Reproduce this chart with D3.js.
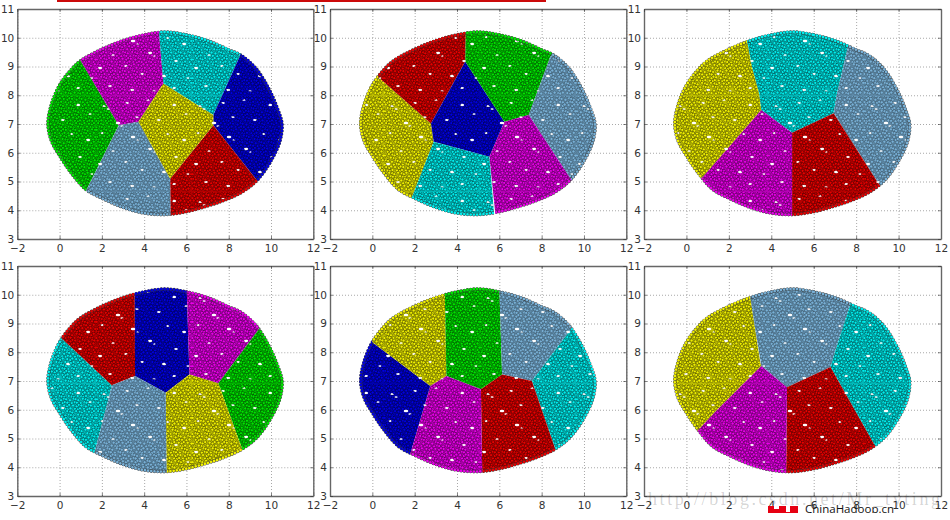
<!DOCTYPE html>
<html>
<head>
<meta charset="utf-8">
<script src="https://d3js.org/d3.v7.min.js"></script>
<style>
html, body { margin: 0; padding: 0; background: #fff; }
svg { display: block; }
text { font-family: "DejaVu Sans", sans-serif; }
</style>
</head>
<body>
<div id="chart"></div>
<script>
const xTicks = [-2, 0, 2, 4, 6, 8, 10, 12];
const yTicks = [3, 4, 5, 6, 7, 8, 9, 10, 11];
const watermark = "http://blog.csdn.net/Mr_tyting";
const siteName = "ChinaHadoop.cn";

const colors = {
    green: "#00e600", magenta: "#ea00ea", cyan: "#00eeee", blue: "#0000e0",
    yellow: "#f0f000", slate: "#78b0d6", red: "#e80000"
};

const rim = [[5,10.2],[6,10.1],[7,9.9],[8,9.58],[8.6,9.38],[9.3,8.92],[9.9,8.22],[10.3,7.55],[10.52,7],
    [10.42,6.4],[10,5.72],[9.35,5.05],[8.6,4.62],[7.8,4.35],[7,4.15],[6,3.95],[5,3.85],[4,3.9],[3,4.1],
    [2,4.42],[1.25,4.72],[0.5,5.35],[0,5.9],[-0.38,6.4],[-0.55,7],[-0.38,7.7],[0,8.35],[0.5,8.85],
    [1,9.2],[2,9.6],[3,9.9],[4,10.1]];

// regions of each panel: colour name, then corners in data units (outer corners lie past the rim)
const panel1 = [
    ["green", [[1.02,9.17],[2.8,6.96],[1.26,4.7],[1,4.3],[-1.5,4.3],[-1.5,9.9],[0.7,9.6]]],
    ["magenta", [[1.02,9.17],[0.7,9.6],[2,11],[4.65,11],[4.7,10.2],[4.91,8.41],[3.73,7.08],[2.8,6.96]]],
    ["cyan", [[4.65,11],[8.9,11],[8.9,10],[8.55,9.4],[7.27,7.31],[4.91,8.41],[4.7,10.2]]],
    ["blue", [[8.9,11],[12,11],[12,4],[9.9,4.5],[9.32,5.05],[7.27,6.96],[7.27,7.31],[8.55,9.4],[8.9,10]]],
    ["red", [[5.23,5.1],[7.27,6.96],[9.32,5.05],[9.9,4.5],[9.9,3],[5.25,3]]],
    ["slate", [[1.26,4.7],[2.8,6.96],[3.73,7.08],[5.23,5.1],[5.25,3],[1,3],[1,4.3]]],
    ["yellow", [[3.73,7.08],[4.91,8.41],[7.27,7.31],[7.27,6.96],[5.23,5.1]]]
];
const panel2 = [
    ["yellow", [[0.3,8.62],[2.77,7.02],[2.9,6.38],[1.87,4.45],[1.6,3.9],[-1.5,3.9],[-1.5,9.5],[0,9.2]]],
    ["red", [[0.3,8.62],[2.77,7.02],[4.39,9.17],[4.44,11],[0,11],[0,9.2]]],
    ["blue", [[2.77,7.02],[4.39,9.17],[6.24,7.08],[5.53,5.86],[2.9,6.38]]],
    ["green", [[4.39,9.17],[4.44,11],[8.8,11],[8.8,9.8],[8.41,9.34],[7.39,7.31],[6.24,7.08]]],
    ["slate", [[8.8,11],[12,11],[12,4],[9.7,4.7],[9.35,5.11],[7.39,7.31],[8.41,9.34],[8.8,9.8]]],
    ["magenta", [[6.24,7.08],[7.39,7.31],[9.35,5.11],[9.7,4.7],[9.7,3],[5.85,3],[5.81,3.9],[5.53,5.86]]],
    ["cyan", [[2.9,6.38],[5.53,5.86],[5.85,3],[1.6,3],[1.87,4.45]]]
];
const panel3 = [
    ["yellow", [[2.85,9.94],[3.09,8.99],[3.43,8.06],[3.53,7.49],[0.65,5.05],[0.2,4.6],[-1.5,4.6],[-1.5,11],[2.7,11]]],
    ["cyan", [[2.7,11],[2.85,9.94],[3.09,8.99],[3.43,8.06],[3.53,7.49],[4.98,6.7],[6.94,7.37],[7.1,8.06],[7.65,9.8],[7.9,11]]],
    ["slate", [[7.9,11],[12,11],[12,3.5],[9.5,4.4],[9.15,4.82],[6.94,7.37],[7.1,8.06],[7.65,9.8]]],
    ["red", [[4.98,6.7],[6.94,7.37],[9.15,4.82],[9.5,4.4],[9.5,3],[4.98,3]]],
    ["magenta", [[3.53,7.49],[4.98,6.7],[4.98,3],[0.2,3],[0.2,4.6],[0.65,5.05]]]
];
const panel4 = [
    ["cyan", [[0.08,8.5],[2.47,6.85],[2.31,6.36],[1.69,4.62],[1.5,4],[-1.5,4],[-1.5,8.7],[-0.2,8.7]]],
    ["red", [[0.08,8.5],[2.47,6.85],[3.57,7.17],[3.55,11],[-0.2,11],[-0.2,8.7]]],
    ["blue", [[3.55,11],[5.98,11],[6.14,7.23],[5.02,6.59],[3.57,7.17]]],
    ["magenta", [[5.98,11],[9.9,11],[9.9,9.4],[9.48,8.85],[7.51,6.92],[6.14,7.23]]],
    ["green", [[9.9,11],[12,11],[12,3],[9,3],[9,3.9],[8.61,4.68],[7.51,6.92],[9.48,8.85],[9.9,9.4]]],
    ["yellow", [[5.02,6.59],[6.14,7.23],[7.51,6.92],[8.61,4.68],[9,3.9],[9,3],[5.07,3]]],
    ["slate", [[2.47,6.85],[3.57,7.17],[5.02,6.59],[5.07,3],[1.5,3],[1.5,4],[1.69,4.62],[2.31,6.36]]]
];
const panel5 = [
    ["blue", [[-0.2,8.7],[0.03,8.33],[2.74,6.83],[1.8,4.48],[1.5,3.9],[-1.5,3.9],[-1.5,8.7]]],
    ["yellow", [[0.03,8.33],[2.74,6.83],[3.5,7.17],[3.4,11],[-0.2,11],[-0.2,8.7]]],
    ["green", [[3.4,11],[5.97,11],[6.13,7.23],[5.13,6.71],[3.5,7.17]]],
    ["slate", [[5.97,11],[9.9,11],[9.9,9.4],[9.43,8.85],[7.54,7],[6.13,7.23]]],
    ["cyan", [[9.9,11],[12,11],[12,3],[9,3],[9,3.8],[8.65,4.62],[7.54,7],[9.43,8.85],[9.9,9.4]]],
    ["red", [[5.13,6.71],[6.13,7.23],[7.54,7],[8.65,4.62],[9,3.8],[9,3],[5.21,3]]],
    ["magenta", [[2.74,6.83],[3.5,7.17],[5.13,6.71],[5.21,3],[1.5,3],[1.5,3.9],[1.8,4.48]]]
];
const panel6 = [
    ["yellow", [[2.9,11],[3,9.98],[3.17,9.14],[3.48,7.64],[3.53,7.52],[1.35,5.92],[0.54,5.28],[0,4.8],[-1.5,4.8],[-1.5,11]]],
    ["slate", [[2.9,11],[3,9.98],[3.17,9.14],[3.53,7.52],[4.74,6.78],[6.79,7.49],[7.02,8.06],[7.81,9.86],[8,11]]],
    ["cyan", [[8,11],[12,11],[12,3.5],[9.2,4.4],[8.88,4.76],[6.79,7.49],[7.02,8.06],[7.81,9.86]]],
    ["red", [[4.74,6.78],[6.79,7.49],[8.88,4.76],[9.2,4.4],[9.2,3],[4.69,3]]],
    ["magenta", [[3.53,7.52],[4.74,6.78],[4.69,3],[0,3],[0,4.8],[0.54,5.28],[1.35,5.92]]]
];

const WIDTH = 950, HEIGHT = 520;
const COLS = [[17.3, 313.3], [330, 626.3], [644, 941]];
const ROWS = [[9, 239], [266, 496]];

const svg = d3.select("#chart").append("svg")
    .attr("width", WIDTH)
    .attr("height", HEIGHT);
const defs = svg.append("defs");

// the dense markers are a repeating texture, one tile per colour
const TILE = 96, STEP = 3.1;
const nudgeX = [0.5, -0.6, 0.2, 0.8, -0.3, -0.8, 0.6], nudgeY = [-0.4, 0.7, 0.1, -0.8, 0.5, -0.2];
const gaps = [[8,10,1.6],[12,13,1.2],[31,7,1.4],[52,4,1.2],[78,9,1.7],[90,18,1.2],[22,27,1.9],[26,30,1.2],
    [41,21,1.3],[63,24,1.6],[6,37,1.4],[37,41,1.9],[42,44,1.1],[72,38,1.3],[88,44,1.7],[17,55,1.2],
    [54,53,1.9],[58,56,1.1],[80,61,1.4],[4,68,1.7],[30,66,1.3],[46,74,1.4],[68,76,1.9],[92,78,1.2],
    [14,86,1.4],[36,90,1.7],[58,91,1.2],[78,88,1.6]];
const dots = [];
d3.range(0, TILE, STEP).forEach((cy, j) => {
    d3.range(0, TILE, STEP).forEach((cx, i) => {
        const x = cx + (j % 2 ? STEP / 2 : 0) + nudgeX[(i + j * 3) % 7];
        const y = cy + nudgeY[(i * 2 + j) % 6];
        if (!gaps.some(g => Math.hypot(x - g[0], y - g[1]) < g[2] + 0.9)) dots.push([x, y]);
    });
});
Object.keys(colors).forEach(name => {
    const tile = defs.append("pattern")
        .attr("id", "tile-" + name)
        .attr("patternUnits", "userSpaceOnUse")
        .attr("width", TILE)
        .attr("height", TILE);
    tile.append("rect").attr("width", TILE).attr("height", TILE)
        .attr("fill", d3.color(colors[name]).darker(0.7));
    tile.selectAll("ellipse").data(gaps).join("ellipse")
        .attr("cx", d => d[0]).attr("cy", d => d[1])
        .attr("rx", d => d[2] + 0.4).attr("ry", d => d[2] * 0.7)
        .attr("fill", "#fff");
    tile.selectAll("circle").data(dots).join("circle")
        .attr("cx", d => d[0]).attr("cy", d => d[1])
        .attr("r", 1.5)
        .attr("fill", colors[name])
        .attr("stroke", "#000")
        .attr("stroke-opacity", name == "slate" ? 0.4 : 0.6)
        .attr("stroke-width", 0.55);
});

const soft = defs.append("filter").attr("id", "soft");
soft.append("feGaussianBlur").attr("stdDeviation", 0.2);

function drawPanel(regions, col, row, idx) {
    const [left, right] = COLS[col], [top, bottom] = ROWS[row];
    const x = d3.scaleLinear().domain([-2, 12]).range([left, right]);
    const y = d3.scaleLinear().domain([3, 11]).range([bottom, top]);
    const g = svg.append("g");

    const gridX = g.append("g").attr("transform", `translate(0,${bottom})`)
        .call(d3.axisBottom(x).tickValues(xTicks).tickSize(top - bottom).tickFormat(""));
    const gridY = g.append("g").attr("transform", `translate(${left},0)`)
        .call(d3.axisLeft(y).tickValues(yTicks).tickSize(left - right).tickFormat(""));
    [gridX, gridY].forEach(a => {
        a.select(".domain").remove();
        a.selectAll("line").attr("stroke", "#a8a8a8").attr("stroke-dasharray", "1,2");
    });

    const toPath = d3.line().x(d => x(d[0])).y(d => y(d[1]));
    const rimPath = d3.line().x(d => x(d[0])).y(d => y(d[1])).curve(d3.curveCatmullRomClosed)(rim);
    const marks = g.append("g").attr("filter", "url(#soft)");
    regions.forEach((region, i) => {
        const id = `clip-${idx}-${i}`;
        defs.append("clipPath").attr("id", id)
            .append("path").attr("d", toPath(region[1]) + "Z");
        const part = marks.append("g").attr("clip-path", `url(#${id})`);
        part.append("path").attr("d", rimPath)
            .attr("fill", `url(#tile-${region[0]})`);
        part.append("path").attr("d", rimPath)
            .attr("fill", "none")
            .attr("stroke", "#333")
            .attr("stroke-width", 3.6)
            .attr("stroke-linecap", "round")
            .attr("stroke-dasharray", "0 3.2");
        part.append("path").attr("d", rimPath)
            .attr("fill", "none")
            .attr("stroke", colors[region[0]])
            .attr("stroke-width", 2.8)
            .attr("stroke-linecap", "round")
            .attr("stroke-dasharray", "0 3.2");
    });

    const axes = [
        g.append("g").attr("transform", `translate(0,${bottom})`)
            .call(d3.axisBottom(x).tickValues(xTicks).tickSizeInner(-3).tickSizeOuter(0).tickPadding(6)),
        g.append("g").attr("transform", `translate(${left},0)`)
            .call(d3.axisLeft(y).tickValues(yTicks).tickSizeInner(-3).tickSizeOuter(0).tickPadding(3)),
        g.append("g").attr("transform", `translate(0,${top})`)
            .call(d3.axisTop(x).tickValues(xTicks).tickSizeInner(-3).tickSizeOuter(0).tickFormat("")),
        g.append("g").attr("transform", `translate(${right},0)`)
            .call(d3.axisRight(y).tickValues(yTicks).tickSizeInner(-3).tickSizeOuter(0).tickFormat(""))
    ];
    axes.forEach(a => {
        a.select(".domain").attr("stroke", "#666").attr("stroke-width", 1.4);
        a.selectAll("line").attr("stroke", "#333").attr("stroke-width", 0.6);
        a.selectAll("text")
            .attr("fill", "#333")
            .style("font-size", "10.5px")
            .style("font-family", '"DejaVu Sans", sans-serif');
    });
}

[panel1, panel2, panel3, panel4, panel5, panel6].forEach((regions, i) => {
    drawPanel(regions, i % 3, Math.floor(i / 3), i);
});

// red strip cut off at the top of the screenshot
svg.append("rect").attr("x", 57).attr("y", 0).attr("width", 489).attr("height", 2).attr("fill", "#cc0a0a");

// site logo and name, cut off near the bottom
const cut = defs.append("clipPath").attr("id", "site-cut");
cut.append("rect").attr("x", 760).attr("y", 500).attr("width", 140).attr("height", 13);
const site = svg.append("g").attr("clip-path", "url(#site-cut)");
site.append("rect").attr("x", 768).attr("y", 506).attr("width", 30).attr("height", 8).attr("fill", "#e60012");
site.append("rect").attr("x", 774).attr("y", 506).attr("width", 5).attr("height", 3).attr("fill", "#fff");
site.append("rect").attr("x", 786).attr("y", 506).attr("width", 4).attr("height", 6).attr("fill", "#fff");
site.append("text").attr("x", 805).attr("y", 513).text(siteName)
    .style("font-family", "'Open Sans', sans-serif")
    .style("font-size", "11.5px").attr("fill", "#111");

// the watermark really does run across the tick labels of the last panel
svg.append("text").attr("x", 648).attr("y", 505).text(watermark)
    .attr("textLength", 292)
    .style("font-family", "'Liberation Serif', serif")
    .style("font-size", "18px")
    .attr("fill", "#000").attr("fill-opacity", 0.18);
</script>
</body>
</html>
